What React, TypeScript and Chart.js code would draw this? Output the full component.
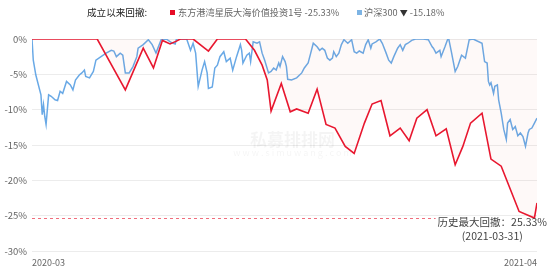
import React, { useEffect, useRef } from "react";
import { Chart, registerables } from "chart.js";

Chart.register(...registerables);

// Day offsets from 2020-03-02
const redDays = [0, 51, 73, 87, 95, 102, 108, 113, 116, 126, 138, 145, 167, 174, 180, 184, 187, 195, 202, 207, 216, 223, 230, 237, 245, 252, 260, 266, 273, 280, 288, 295, 301, 309, 316, 324, 331, 337, 343, 352, 359, 367, 381, 393, 395];
const redValues = [0, 0, -7.2, -1.3, -4.1, -0.2, -0.7, -0.3, 0, 0, -1.7, 0, 0, -1.6, -3.7, -5.8, -10.2, -6.3, -10.3, -9.9, -10.5, -7.1, -12.1, -12.6, -15.2, -16.2, -11.9, -9.2, -8.7, -13.7, -12.6, -14.4, -11.2, -10.0, -13.7, -12.7, -17.8, -15.2, -11.9, -10.5, -17.0, -18.0, -24.4, -25.33, -23.2];

const blueDays = [0, 1, 3, 7, 8, 9, 10, 11, 13, 15, 18, 20, 22, 24, 27, 30, 32, 34, 37, 39, 41, 42, 45, 48, 50, 54, 58, 62, 64, 66, 69, 71, 73, 76, 79, 82, 83, 87, 91, 94, 97, 101, 105, 109, 112, 113, 121, 124, 126, 128, 130, 133, 135, 137, 138, 141, 143, 145, 147, 150, 152, 155, 157, 160, 163, 164, 165, 168, 170, 171, 173, 176, 178, 180, 182, 185, 187, 189, 191, 193, 194, 196, 198, 199, 200, 203, 207, 211, 213, 216, 218, 220, 223, 225, 227, 229, 231, 233, 235, 236, 238, 240, 242, 244, 247, 250, 252, 254, 256, 259, 261, 263, 265, 266, 269, 272, 274, 277, 279, 281, 283, 286, 288, 290, 292, 294, 297, 300, 306, 310, 313, 314, 316, 319, 320, 323, 325, 326, 328, 331, 333, 336, 339, 342, 345, 352, 354, 356, 357, 358, 359, 361, 362, 364, 365, 367, 369, 371, 372, 374, 376, 378, 380, 382, 384, 386, 388, 389, 391, 393, 395];
const blueValues = [0, -3.0, -5.1, -7.9, -10.7, -9.3, -11.0, -12.1, -7.9, -8.1, -8.6, -8.7, -7.4, -7.7, -6.0, -6.5, -7.2, -5.8, -5.1, -4.8, -4.4, -5.3, -5.5, -4.6, -3.0, -2.5, -2.0, -1.6, -1.7, -2.5, -2.0, -2.3, -4.8, -4.8, -3.9, -2.5, -1.3, -0.8, -0.1, -0.8, -2.0, -0.1, 0, -0.5, -0.7, 0, 0, -1.6, -0.6, -2.0, -6.7, -4.4, -3.2, -4.8, -7.0, -6.8, -4.1, -3.7, -2.5, -1.8, -3.2, -2.7, -4.4, -2.5, -0.8, -1.6, -3.4, -2.3, -2.0, -3.2, -0.4, -0.6, -0.4, -2.0, -3.0, -4.8, -4.6, -4.1, -4.4, -3.4, -3.9, -2.5, -3.2, -3.9, -5.7, -5.8, -5.5, -4.8, -4.1, -3.4, -2.0, -0.6, -1.1, -1.6, -1.3, -1.6, -2.7, -3.0, -2.7, -1.8, -2.5, -2.0, -0.8, -0.1, -0.6, -0.1, -1.8, -2.0, -1.7, -2.0, -0.8, -0.1, -1.3, -0.7, -0.4, 0, -0.6, -2.0, -3.0, -3.4, -2.5, -1.3, -0.8, -1.6, -0.8, -0.6, -0.2, 0, 0, -0.1, -1.1, -1.3, -2.0, -1.6, -2.5, -1.1, -0.1, 0, -1.8, -4.6, -3.9, -2.3, -2.7, -0.1, 0, -0.6, -3.2, -3.4, -6.0, -6.5, -6.2, -7.7, -6.7, -6.5, -8.6, -10.5, -12.8, -14.2, -11.9, -11.4, -12.8, -12.4, -13.7, -13.3, -13.8, -15.18, -13.3, -12.8, -12.6, -11.9, -11.2];

const xTickLabels = ["2020-03", "2021-04"];
const xMin = 0;
const xMax = 395;
const maxDrawdown = -25.33;
const maxDrawdownDate = "2021-03-31";

const redName = "东方港湾星辰大海价值投资1号";
const blueName = "沪深300";
const legendTitle = "成立以来回撤:";

const FONT = "'Noto Sans CJK SC', 'Noto Sans', sans-serif";

const annotationPlugin = {
  id: "mddAnnotation",
  afterDatasetsDraw(chart: any) {
    const { ctx, chartArea, scales } = chart;
    const y = scales.y.getPixelForValue(maxDrawdown);
    ctx.save();
    ctx.font = `10.5px ${FONT}`;
    const t1 = `历史最大回撤：${Math.abs(maxDrawdown).toFixed(2)}%`;
    const t2 = `(${maxDrawdownDate})`;
    const rightX = chart.width - 7;
    const w1 = ctx.measureText(t1).width;
    ctx.strokeStyle = "rgba(235,60,80,0.75)";
    ctx.lineWidth = 1;
    ctx.setLineDash([3, 3]);
    ctx.beginPath();
    ctx.moveTo(chartArea.left, y + 0.5);
    ctx.lineTo(rightX - w1 - 2, y + 0.5);
    ctx.stroke();
    ctx.setLineDash([]);
    ctx.fillStyle = "#444";
    ctx.textAlign = "right";
    ctx.textBaseline = "middle";
    ctx.fillText(t1, rightX, y + 4);
    ctx.textAlign = "center";
    ctx.fillText(t2, rightX - w1 / 2, y + 18);
    ctx.restore();
  },
  beforeDatasetsDraw(chart: any) {
    const { ctx, chartArea } = chart;
    const cx = (chartArea.left + chartArea.right) / 2 + 8;
    ctx.save();
    ctx.fillStyle = "rgba(0,0,0,0.045)";
    ctx.textAlign = "center";
    ctx.textBaseline = "middle";
    ctx.font = `bold 17px ${FONT}`;
    ctx.fillText("私募排排网", cx, 140);
    ctx.font = `9px ${FONT}`;
    ctx.fillText("w w w . s i m u w a n g . c o m", cx, 153);
    ctx.restore();
  },
};

export default function App() {
  const canvasRef = useRef<HTMLCanvasElement | null>(null);

  useEffect(() => {
    document.body.style.margin = "0";
    const canvas = canvasRef.current;
    if (!canvas) return;
    const chart = new Chart(canvas, {
      type: "line",
      data: {
        datasets: [
          {
            label: redName,
            data: redDays.map((d, i) => ({ x: d, y: redValues[i] })),
            borderColor: "#e8172f",
            borderWidth: 1.6,
            pointRadius: 0,
            tension: 0,
            fill: "origin",
            backgroundColor: "rgba(240,100,80,0.04)",
          },
          {
            label: blueName,
            data: blueDays.map((d, i) => ({ x: d, y: blueValues[i] })),
            borderColor: "#69a9e6",
            borderWidth: 1.5,
            pointRadius: 0,
            tension: 0,
            fill: false,
          },
        ],
      },
      options: {
        animation: false,
        responsive: false,
        maintainAspectRatio: false,
        layout: { padding: { top: 39, right: 17, bottom: 0, left: 0 } },
        plugins: {
          legend: { display: false },
          tooltip: { enabled: false },
        },
        scales: {
          x: {
            type: "linear",
            min: xMin,
            max: xMax,
            grid: { display: false, drawTicks: false },
            border: { display: false },
            afterBuildTicks: (scale: any) => {
              scale.ticks = [{ value: xMin }, { value: xMax }];
            },
            afterFit: (scale: any) => {
              scale.height = 19;
            },
            ticks: {
              align: "inner",
              maxRotation: 0,
              autoSkip: false,
              padding: 6,
              color: "#666",
              font: { size: 9, family: FONT },
              callback: (v: any) => (v === xMin ? xTickLabels[0] : xTickLabels[1]),
            },
          },
          y: {
            min: -30,
            max: 0,
            grid: { color: "#ececec", drawTicks: false, lineWidth: 1 },
            border: { display: false },
            afterFit: (scale: any) => {
              scale.width = 32;
            },
            ticks: {
              stepSize: 5,
              padding: 5,
              color: "#666",
              font: { size: 9.5, family: FONT },
              callback: (v: any) => `${v}%`,
            },
          },
        },
      },
      plugins: [annotationPlugin],
    });
    return () => chart.destroy();
  }, []);

  const legendText: React.CSSProperties = {
    position: "absolute",
    top: 5,
    fontFamily: FONT,
    fontSize: 9.2,
    lineHeight: "14px",
    color: "#666",
    whiteSpace: "nowrap",
  };

  return (
    <div style={{ position: "relative", width: 554, height: 270, background: "#fff" }}>
      <canvas ref={canvasRef} width={554} height={270} style={{ display: "block" }} />
      <span style={{ ...legendText, left: 87, fontSize: 9.6, color: "#222" }}>{legendTitle}</span>
      <span
        style={{ position: "absolute", left: 170, top: 10, width: 5, height: 5, background: "#e60c26" }}
      />
      <span style={{ ...legendText, left: 178 }}>
        {redName} {redValues[redValues.indexOf(maxDrawdown)].toFixed(2)}%
      </span>
      <span
        style={{ position: "absolute", left: 357, top: 10, width: 5, height: 5, background: "#7db4e4" }}
      />
      <span style={{ ...legendText, left: 364 }}>
        {blueName} <span style={{ fontSize: 8, color: "#333" }}>▼</span> {Math.min(...blueValues).toFixed(2)}%
      </span>
    </div>
  );
}
